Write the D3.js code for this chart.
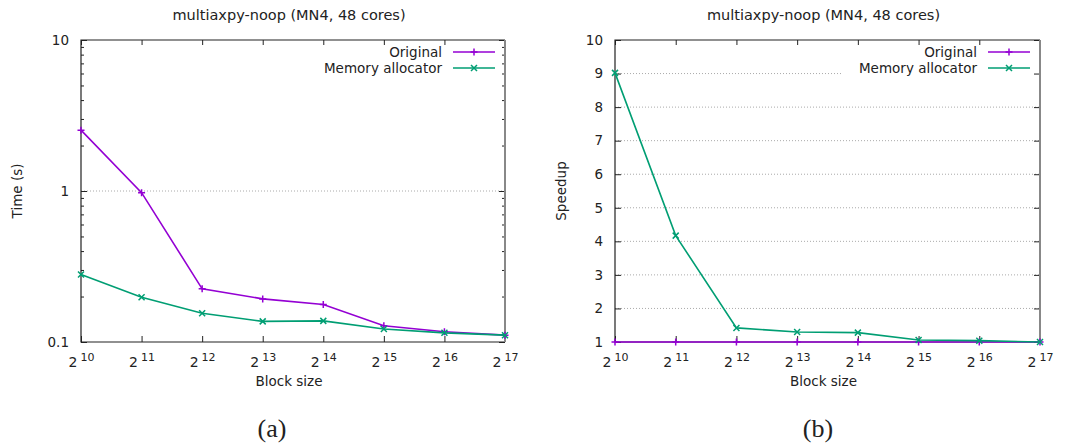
<!DOCTYPE html>
<html>
<head>
<meta charset="utf-8">
<script src="https://cdn.jsdelivr.net/npm/d3@7"></script>
<style>
  body { margin: 0; background: #fff; }
  svg text { font-family: "DejaVu Sans", sans-serif; fill: #222; }
</style>
</head>
<body>
<svg id="chart" width="1073" height="446"></svg>
<script>
// block size exponents (2^k)
const blockExp = [10, 11, 12, 13, 14, 15, 16, 17];

// (a) execution time, seconds
const timeOriginal = [2.53, 0.975, 0.225, 0.193, 0.177, 0.128, 0.117, 0.111];
const timeAllocator = [0.280, 0.198, 0.155, 0.137, 0.138, 0.122, 0.115, 0.111];

// (b) speedup over original
const speedupOriginal = [1, 1, 1, 1, 1, 1, 1, 1];
const speedupAllocator = [9.02, 4.17, 1.42, 1.30, 1.28, 1.06, 1.04, 1.0];

const seriesNames = ["Original", "Memory allocator"];
const timeTicks = [0.1, 1, 10];
const speedupTicks = [1, 2, 3, 4, 5, 6, 7, 8, 9, 10];

const purple = "#9400d3", green = "#009e73";
const svg = d3.select("#chart");

function marker(g, kind, x, y, color) {
    const h = kind === "plus" ? 3.5 : 3;
    const p = kind === "plus"
        ? `M${x - h},${y}H${x + h}M${x},${y - h}V${y + h}`
        : `M${x - h},${y - h}L${x + h},${y + h}M${x - h},${y + h}L${x + h},${y - h}`;
    g.append("path").attr("d", p).attr("stroke", color).attr("stroke-width", 1.5).attr("fill", "none");
}

function drawPanel(opt) {
    const g = svg.append("g");
    const {x0, x1, y0, y1} = opt;
    const x = d3.scaleLinear().domain([10, 17]).range([x0, x1]);
    const y = opt.log
        ? d3.scaleLog().domain([0.1, 10]).range([y1, y0])
        : d3.scaleLinear().domain([1, 10]).range([y1, y0]);

    // grid
    g.append("g").selectAll("line").data(opt.grid).join("line")
        .attr("x1", x0).attr("x2", d => d === 9 ? opt.gridBreak : x1)
        .attr("y1", d => y(d)).attr("y2", d => y(d))
        .attr("stroke", "#aaa").attr("stroke-width", 1).attr("stroke-dasharray", "1,2");

    // axes
    const bottom = g.append("g").attr("transform", `translate(0,${y1})`)
        .call(d3.axisBottom(x).tickValues(blockExp).tickSize(-6).tickSizeOuter(0).tickPadding(12).tickFormat(() => "2"));
    bottom.selectAll("text").attr("font-size", 14).attr("dy", "0.95em")
        .append("tspan").attr("font-size", 11).attr("dx", 3).attr("dy", -6).text(d => d);
    g.append("g").attr("transform", `translate(0,${y0})`)
        .call(d3.axisTop(x).tickValues(blockExp).tickSize(-5).tickSizeOuter(0).tickFormat(""));

    const left = g.append("g").attr("transform", `translate(${x0},0)`)
        .call(d3.axisLeft(y).tickValues(opt.ticks).tickSize(-6).tickSizeOuter(0).tickPadding(12)
            .tickFormat(d => String(d)));
    left.selectAll("text").attr("font-size", 13.5);
    g.append("g").attr("transform", `translate(${x1},0)`)
        .call(d3.axisRight(y).tickValues(opt.ticks).tickSize(-6).tickSizeOuter(0).tickFormat(""));
    if (opt.log) {
        const minor = [];
        [0.1, 1].forEach(b => { for (let k = 2; k <= 9; k++) minor.push(b * k); });
        g.append("g").attr("transform", `translate(${x0},0)`)
            .call(d3.axisLeft(y).tickValues(minor).tickSize(-3).tickSizeOuter(0).tickFormat(""));
        g.append("g").attr("transform", `translate(${x1},0)`)
            .call(d3.axisRight(y).tickValues(minor).tickSize(-3).tickSizeOuter(0).tickFormat(""));
    }
    g.selectAll(".domain").remove();
    g.selectAll(".tick line").attr("stroke", "#222");
    g.selectAll(".tick text").attr("fill", "#222").attr("font-family", "DejaVu Sans");

    // frame
    g.append("path").attr("d", `M${x1},${y0}H${x0}V${y1}H${x1}`)
        .attr("fill", "none").attr("stroke", "#222").attr("stroke-width", 1.2);
    g.append("line").attr("x1", x1).attr("x2", x1).attr("y1", y0).attr("y2", y1)
        .attr("stroke", "#888").attr("stroke-width", 2);

    // series
    const line = d3.line().x((d, i) => x(blockExp[i])).y(d => y(d));
    const series = [[opt.data[0], purple, "plus"], [opt.data[1], green, "cross"]];
    series.forEach(([vals, color, kind]) => {
        g.append("path").attr("d", line(vals)).attr("fill", "none")
            .attr("stroke", color).attr("stroke-width", 1.6);
        vals.forEach((v, i) => marker(g, kind, x(blockExp[i]), y(v), color));
    });

    // legend
    const lx = x1 - 10, ly = y0 + 12;
    series.forEach(([vals, color, kind], i) => {
        const yy = ly + i * 16;
        g.append("text").attr("x", lx - 53).attr("y", yy).attr("dy", "0.35em")
            .attr("text-anchor", "end").attr("font-size", 13.5).text(seriesNames[i]);
        g.append("line").attr("x1", lx - 42).attr("x2", lx).attr("y1", yy).attr("y2", yy)
            .attr("stroke", color).attr("stroke-width", 1.6);
        marker(g, kind, lx - 21, yy, color);
    });

    // titles
    const cx = (x0 + x1) / 2;
    g.append("text").attr("x", cx - 4).attr("y", 20).attr("text-anchor", "middle")
        .attr("font-size", 14.5).text("multiaxpy-noop (MN4, 48 cores)");
    g.append("text").attr("x", cx - 4).attr("y", 386).attr("text-anchor", "middle")
        .attr("font-size", 13.5).text("Block size");
    g.append("text").attr("transform", `translate(${opt.ylabX},${(y0 + y1) / 2}) rotate(-90)`)
        .attr("text-anchor", "middle").attr("font-size", 13.5).text(opt.ylabel);
    g.append("text").attr("x", opt.capX).attr("y", 437).attr("text-anchor", "middle")
        .attr("font-size", 26).style("font-family", "Liberation Serif, serif")
        .text(opt.caption);
}

drawPanel({x0: 81, x1: 505, y0: 40, y1: 342, log: true, ticks: timeTicks, grid: [1], gridBreak: 505,
    data: [timeOriginal, timeAllocator], ylabel: "Time (s)", ylabX: 22, capX: 272, caption: "(a)"});
drawPanel({x0: 615, x1: 1040, y0: 40, y1: 342, log: false, ticks: speedupTicks, grid: [2, 3, 4, 5, 6, 7, 8, 9],
    gridBreak: 843, data: [speedupOriginal, speedupAllocator], ylabel: "Speedup", ylabX: 566, capX: 818, caption: "(b)"});
</script>
</body>
</html>
